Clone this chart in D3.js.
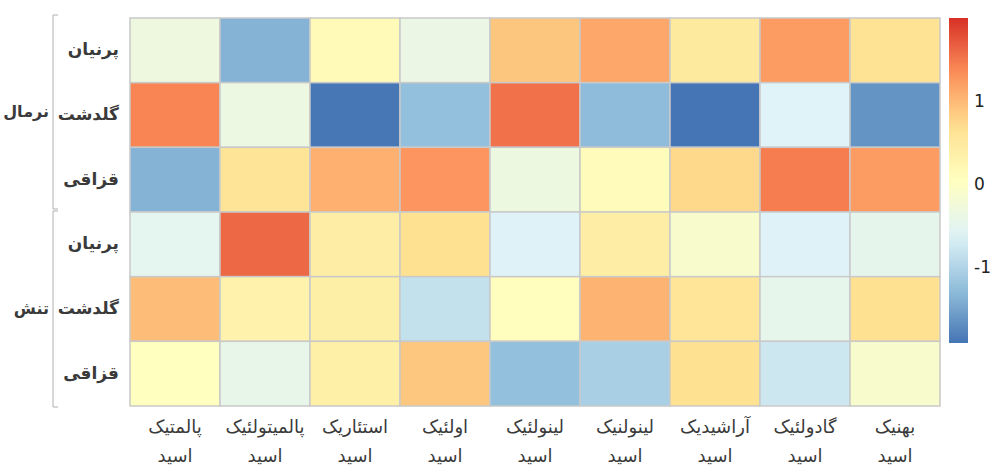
<!DOCTYPE html>
<html>
<head>
<meta charset="utf-8">
<script src="https://cdn.jsdelivr.net/npm/d3@7"></script>
<style>
  html, body { margin: 0; padding: 0; background: #fff; }
  svg { display: block; }
  text { font-family: "DejaVu Sans", "Noto Sans", sans-serif; }
</style>
</head>
<body>
<svg id="chart" width="992" height="465"></svg>
<script>
// Fatty acids (columns), first word of each label, second line is "اسید"
const acids = ["پالمتیک", "پالمیتولئیک", "استئاریک", "اولئیک", "لینولئیک", "لینولنیک", "آراشیدیک", "گادولئیک", "بهنیک"];
const acidWord = "اسید";

// Row groups (conditions) and cultivars
const conditions = ["نرمال", "تنش"];
const cultivars = ["پرنیان", "گلدشت", "قزاقی"];

// Scaled values, one array per row (condition × cultivar)
const normalParnian  = [-0.32, -1.37, 0.15, -0.38, 0.90, 1.14, 0.48, 1.24, 0.63];
const normalGoldasht = [ 1.40, -0.36, -1.90, -1.25, 1.54, -1.29, -1.92, -0.61, -1.65];
const normalGhazaghi = [-1.37, 0.61, 1.07, 1.28, -0.34, 0.10, 0.75, 1.46, 1.24];
const stressParnian  = [-0.51, 1.61, 0.42, 0.68, -0.62, 0.42, -0.11, -0.62, -0.48];
const stressGoldasht = [ 0.97, 0.31, 0.38, -0.85, 0.06, 1.04, 0.58, -0.47, 0.68];
const stressGhazaghi = [ 0.04, -0.45, 0.36, 0.89, -1.25, -1.07, 0.68, -0.77, -0.11];

// Colour legend range and tick labels
const legendMin = -1.92, legendMax = 2.0;
const legendTicks = [-1, 0, 1];

const rowsData = [normalParnian, normalGoldasht, normalGhazaghi, stressParnian, stressGoldasht, stressGhazaghi];
const rowKeys = [];
conditions.forEach((c, gi) => cultivars.forEach((v, vi) => rowKeys.push({ key: gi * 3 + vi, condition: c, cultivar: v })));

const cells = [];
rowsData.forEach((vals, r) => vals.forEach((v, c) => cells.push({ row: r, col: c, value: v })));

const svg = d3.select("#chart");

const gridLeft = 130, gridRight = 940, gridTop = 18, gridBottom = 406;

const x = d3.scaleBand().domain(d3.range(acids.length)).range([gridLeft, gridRight]).padding(0);
const y = d3.scaleBand().domain(d3.range(rowKeys.length)).range([gridTop, gridBottom]).padding(0);

// Reversed RdYlBu 7-class ramp
const ramp = ["#4575b4", "#91bfdb", "#e0f3f8", "#ffffbf", "#fee090", "#fc8d59", "#d73027"];
const color = d3.scaleLinear()
  .domain(d3.range(ramp.length).map(i => legendMin + i * (legendMax - legendMin) / (ramp.length - 1)))
  .range(ramp)
  .interpolate(d3.interpolateRgb)
  .clamp(true);

// Heatmap cells
svg.append("g").selectAll("rect").data(cells).join("rect")
  .attr("x", d => x(d.col))
  .attr("y", d => y(d.row))
  .attr("width", x.bandwidth())
  .attr("height", y.bandwidth())
  .attr("fill", d => color(d.value))
  .attr("stroke", "#c9c9c9")
  .attr("stroke-width", 1.5);

// Cultivar labels
svg.append("g").selectAll("text").data(rowKeys).join("text")
  .attr("x", gridLeft - 11)
  .attr("y", d => y(d.key) + y.bandwidth() / 2)
  .attr("dy", "0.3em")
  .attr("text-anchor", "end")
  .attr("font-size", 17)
  .attr("font-weight", "bold")
  .attr("fill", "#3a3a3a")
  .text(d => d.cultivar);

// Condition brackets and labels
const bx = 53;
const groups = svg.append("g");
conditions.forEach((c, gi) => {
  const y0 = y(gi * 3) - 3 + (gi ? 2 : 0);
  const y1 = y(gi * 3 + 2) + y.bandwidth() + (gi ? 1 : -3);
  groups.append("path")
    .attr("d", `M${bx + 5},${y0}H${bx}V${y1}H${bx + 5}`)
    .attr("fill", "none")
    .attr("stroke", "#b0b0b0")
    .attr("stroke-width", 1);
  groups.append("text")
    .attr("x", bx - 4)
    .attr("y", (y0 + y1) / 2)
    .attr("dy", "0.3em")
    .attr("text-anchor", "end")
    .attr("font-size", 16)
    .attr("font-weight", "bold")
    .attr("fill", "#3a3a3a")
    .text(c);
});

// Fatty acid labels (two lines)
const colLabels = svg.append("g").selectAll("g").data(acids).join("g")
  .attr("transform", (d, i) => `translate(${x(i) + x.bandwidth() / 2},0)`);
colLabels.append("text")
  .attr("y", 433)
  .attr("text-anchor", "middle")
  .attr("font-size", 18)
  .attr("fill", "#3a3a3a")
  .text(d => d);
colLabels.append("text")
  .attr("y", 462)
  .attr("text-anchor", "middle")
  .attr("font-size", 18)
  .attr("fill", "#3a3a3a")
  .text(acidWord);

// Colour legend
const lx = 949, lw = 19, ly0 = 18, ly1 = 343;
const ly = d3.scaleLinear().domain([legendMin, legendMax]).range([ly1, ly0]);
const defs = svg.append("defs");
const grad = defs.append("linearGradient")
  .attr("id", "legendGrad")
  .attr("x1", 0).attr("y1", 1).attr("x2", 0).attr("y2", 0);
d3.range(0, 1.0001, 0.05).forEach(t => {
  grad.append("stop")
    .attr("offset", t)
    .attr("stop-color", color(legendMin + t * (legendMax - legendMin)));
});
svg.append("rect")
  .attr("x", lx).attr("y", ly0)
  .attr("width", lw).attr("height", ly1 - ly0)
  .attr("fill", "url(#legendGrad)");

svg.append("g").selectAll("text").data(legendTicks).join("text")
  .attr("x", lx + lw + 6)
  .attr("y", d => ly(d))
  .attr("dy", "0.35em")
  .attr("font-size", 17)
  .attr("font-family", "Liberation Sans, Arial, sans-serif")
  .attr("fill", "#222")
  .text(d => d);
</script>
</body>
</html>
